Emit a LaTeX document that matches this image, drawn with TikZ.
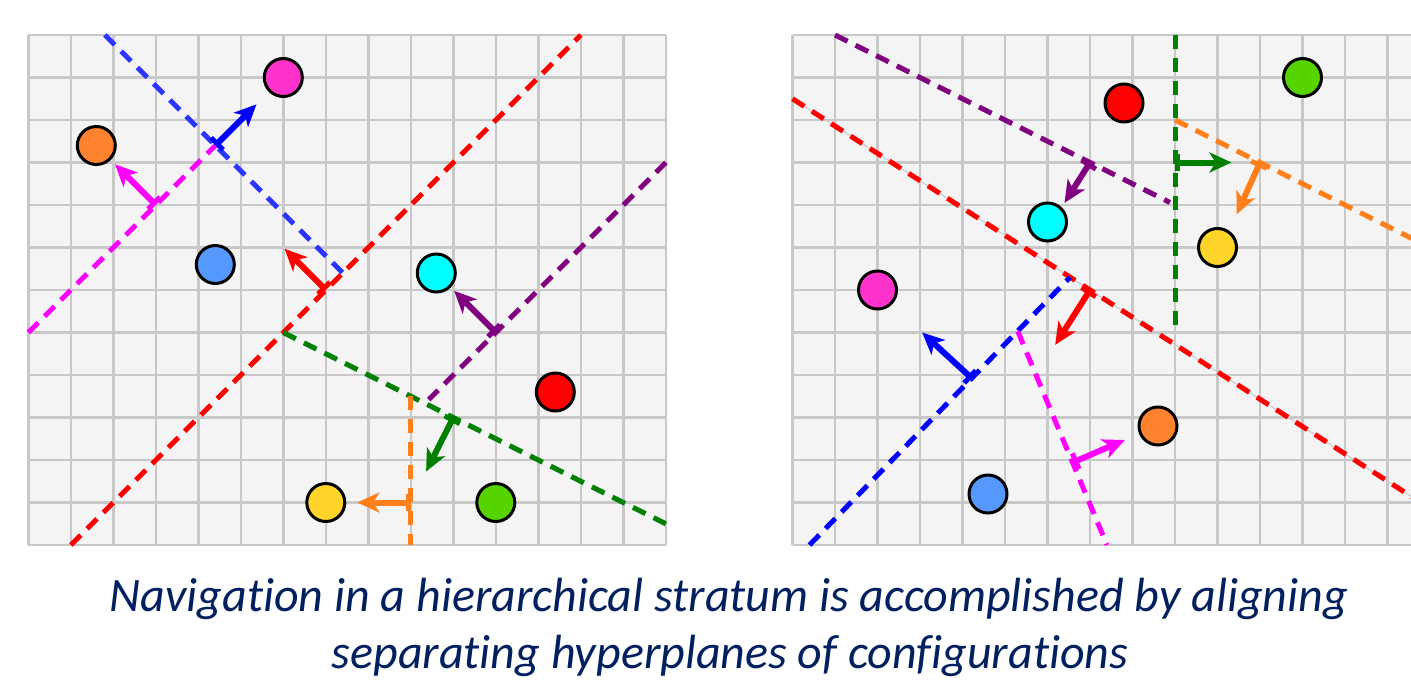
\documentclass[tikz,border=0pt]{standalone}
\usepackage{fontspec}
\setmainfont{Carlito}[Ligatures=NoCommon]
\usetikzlibrary{arrows.meta}
\definecolor{gridbg}{HTML}{F4F4F4}
\definecolor{gridln}{HTML}{C8C8C8}
\definecolor{cMag}{HTML}{FF33CC}
\definecolor{cOra}{HTML}{FF822E}
\definecolor{cBlu}{HTML}{5599FF}
\definecolor{cCya}{HTML}{00FFFF}
\definecolor{cRed}{HTML}{FF0000}
\definecolor{cYel}{HTML}{FFD42A}
\definecolor{cGre}{HTML}{55D400}
\definecolor{hBlue}{HTML}{2A35FF}
\definecolor{hMag}{HTML}{FF00FF}
\definecolor{hRed}{HTML}{FF0000}
\definecolor{hPur}{HTML}{800080}
\definecolor{hGre}{HTML}{008000}
\definecolor{hOra}{HTML}{FF7F1A}
\definecolor{capcol}{HTML}{002060}
\tikzset{
  gridbox/.style={fill=gridbg},
  gridlines/.style={draw=gridln, line width=2.4pt},
  hyper/.style={line width=5pt, dash pattern=on 14pt off 9pt},
  normal/.style={line width=6pt, arrows={Bar[width=17pt,line width=5pt]-Stealth[length=22pt,width=20pt,inset=6pt]}},
  dot/.style={circle, draw=black, line width=3pt, minimum size=38pt, inner sep=0pt},
  captext/.style={font=\fontsize{48}{58}\selectfont\itshape, text=capcol, anchor=base, inner sep=0pt}
}
\begin{document}
\begin{tikzpicture}[x=1pt,y=-1pt]
\useasboundingbox (0,0) rectangle (1411,685);
\clip (0,0) rectangle (1411,685);

% ---------------- Left panel ----------------
\begin{scope}[shift={(28.3,35)}, x=42.5pt, y=-42.5pt]
  \fill[gridbox] (0,0) rectangle (15,12);
  \foreach \i in {0,...,15} \draw[gridlines] (\i,0) -- (\i,12);
  \foreach \j in {0,...,12} \draw[gridlines] (0,\j) -- (15,\j);
  % hyperplane end points
  \coordinate (lb1) at (1.8,0);   \coordinate (lb2) at (7.4,5.6);
  \coordinate (lr1) at (1,12);    \coordinate (lr2) at (13,0);
  \coordinate (lm1) at (0,7);     \coordinate (lm2) at (4.4,2.6);
  \coordinate (lp1) at (15,3);    \coordinate (lp2) at (9.42,8.58);
  \coordinate (lg1) at (6,7);     \coordinate (lg2) at (15,11.5);
  \coordinate (lo1) at (9,8.5);   \coordinate (lo2) at (9,12);
  \draw[hyper, hBlue] (lb1) -- (lb2);
  \draw[hyper, hRed] (lr1) -- (lr2);
  \draw[hyper, hMag] (lm1) -- (lm2);
  \draw[hyper, hPur] (lp1) -- (lp2);
  \draw[hyper, hGre] (lg1) -- (lg2);
  \draw[hyper, hOra] (lo1) -- (lo2);
  % normals
  \coordinate (lnb0) at (4.4,2.6);  \coordinate (lnb1) at (5.37,1.63);
  \coordinate (lnm0) at (3,4);      \coordinate (lnm1) at (2.04,3.04);
  \coordinate (lnr0) at (7,6);      \coordinate (lnr1) at (6.03,5.03);
  \coordinate (lnp0) at (11,7);     \coordinate (lnp1) at (10.02,6.02);
  \coordinate (lng0) at (10,9);     \coordinate (lng1) at (9.36,10.27);
  \coordinate (lno0) at (9,11);     \coordinate (lno1) at (7.74,11);
  \draw[normal, blue] (lnb0) -- (lnb1);
  \draw[normal, hMag] (lnm0) -- (lnm1);
  \draw[normal, hRed] (lnr0) -- (lnr1);
  \draw[normal, hPur] (lnp0) -- (lnp1);
  \draw[normal, hGre] (lng0) -- (lng1);
  \draw[normal, hOra] (lno0) -- (lno1);
  % configurations
  \node[dot, fill=cMag] (lcm) at (6,1) {};
  \node[dot, fill=cOra] (lco) at (1.6,2.6) {};
  \node[dot, fill=cBlu] (lcb) at (4.4,5.4) {};
  \node[dot, fill=cCya] (lcc) at (9.6,5.6) {};
  \node[dot, fill=cRed] (lcr) at (12.4,8.4) {};
  \node[dot, fill=cYel] (lcy) at (7,11) {};
  \node[dot, fill=cGre] (lcg) at (11,11) {};
\end{scope}

% ---------------- Right panel ----------------
\begin{scope}[shift={(792.5,35)}, x=42.5pt, y=-42.5pt]
  \fill[gridbox] (0,0) rectangle (15,12);
  \foreach \i in {0,...,15} \draw[gridlines] (\i,0) -- (\i,12);
  \foreach \j in {0,...,12} \draw[gridlines] (0,\j) -- (15,\j);
  \coordinate (rp1) at (1,0);     \coordinate (rp2) at (8.88,3.94);
  \coordinate (rr1) at (0,1.5);   \coordinate (rr2) at (15,11.14);
  \coordinate (rg1) at (9,0);     \coordinate (rg2) at (9,7);
  \coordinate (ro1) at (9,2);     \coordinate (ro2) at (15,5);
  \coordinate (rb1) at (0.4,12);  \coordinate (rb2) at (6.53,5.7);
  \coordinate (rm1) at (5.3,6.97); \coordinate (rm2) at (7.4,12);
  \draw[hyper, hPur] (rp1) -- (rp2);
  \draw[gridln, line width=1pt] (rr1) -- (rr2);
  \draw[hyper, hRed] (rr1) -- (rr2);
  \draw[hyper, hGre] (rg1) -- (rg2);
  \draw[hyper, hOra] (ro1) -- (ro2);
  \draw[hyper, blue] (rb1) -- (rb2);
  \draw[hyper, hMag] (rm1) -- (rm2);
  % normals
  \coordinate (rnp0) at (7,3);      \coordinate (rnp1) at (6.4,3.95);
  \coordinate (rng0) at (9,3);      \coordinate (rng1) at (10.33,3);
  \coordinate (rno0) at (11,3);     \coordinate (rno1) at (10.45,4.22);
  \coordinate (rnr0) at (7,6);      \coordinate (rnr1) at (6.18,7.29);
  \coordinate (rnb0) at (4.22,8.08); \coordinate (rnb1) at (3.05,7.0);
  \coordinate (rnm0) at (6.61,10.05); \coordinate (rnm1) at (7.82,9.53);
  \draw[normal, hPur] (rnp0) -- (rnp1);
  \draw[normal, hGre] (rng0) -- (rng1);
  \draw[normal, hOra] (rno0) -- (rno1);
  \draw[normal, hRed] (rnr0) -- (rnr1);
  \draw[normal, blue] (rnb0) -- (rnb1);
  \draw[normal, hMag] (rnm0) -- (rnm1);
  % configurations
  \node[dot, fill=cRed] (rcr) at (7.8,1.6) {};
  \node[dot, fill=cGre] (rcg) at (12,1) {};
  \node[dot, fill=cCya] (rcc) at (6,4.4) {};
  \node[dot, fill=cYel] (rcy) at (10,5) {};
  \node[dot, fill=cMag] (rcm) at (2,6) {};
  \node[dot, fill=cOra] (rco) at (8.6,9.2) {};
  \node[dot, fill=cBlu] (rcb) at (4.6,10.8) {};
\end{scope}

% ---------------- Caption ----------------
\node[captext] (cap1) at (729,611) {Navigation in a hierarchical stratum is accomplished by aligning};
\node[captext] (cap2) at (730,668) {separating hyperplanes of configurations};
\end{tikzpicture}
\end{document}
